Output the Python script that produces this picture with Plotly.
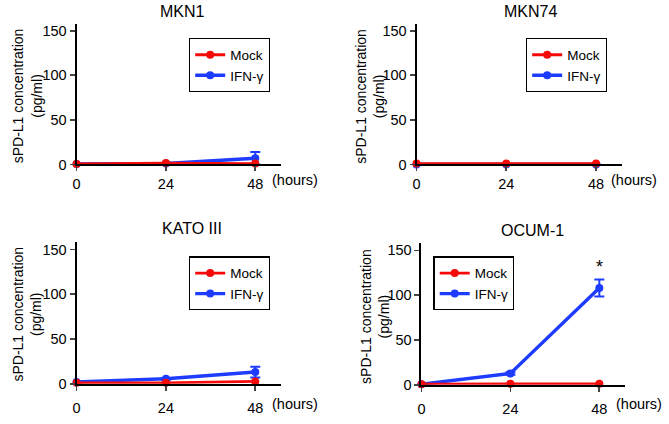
import plotly.graph_objects as go

hours = [0, 24, 48]
x_ticks = [0, 24, 48]
y_ticks = [0, 50, 100, 150]

panels = ["MKN1", "MKN74", "KATO III", "OCUM-1"]

mock_mkn1 = [0.5, 1.5, 1.0]
ifn_mkn1 = [0.5, 1.0, 7.0]
ifn_mkn1_err = [0.3, 0.5, 7.0]

mock_mkn74 = [1.0, 1.0, 1.0]
ifn_mkn74 = [0.0, 0.0, 0.0]
ifn_mkn74_err = [0.0, 0.0, 0.0]

mock_kato = [1.0, 1.0, 2.5]
ifn_kato = [2.0, 5.5, 13.0]
ifn_kato_err = [0.5, 1.0, 6.0]

mock_ocum = [0.5, 1.0, 1.0]
ifn_ocum = [0.5, 12.5, 108.0]
ifn_ocum_err = [0.3, 1.5, 9.5]

mock_series = [mock_mkn1, mock_mkn74, mock_kato, mock_ocum]
ifn_series = [ifn_mkn1, ifn_mkn74, ifn_kato, ifn_ocum]
ifn_errs = [ifn_mkn1_err, ifn_mkn74_err, ifn_kato_err, ifn_ocum_err]

RED = "#f50a0a"
BLUE = "#1e3cff"
FONT = "Arial, Liberation Sans, sans-serif"
W, H = 669, 424

# pixel layout per panel: (x_left, x_right, y_top, y_bottom) in px from top-left
boxes = [
    (73, 279, 23, 167),
    (415, 622, 23, 167),
    (73, 279, 246.5, 391),
    (420, 625, 247.5, 392),
]
legend_pos = [(186, 38), (525, 38), (186, 261), (432, 261)]
title_pos = [(180, 11), (530, 11), (189, 232), (532, 234)]
hours_pos = [(293, 183), (634, 183), (293, 412), (639, 412)]
ytitle_pos = [(23.5, 97), (368, 97), (23.5, 320), (373, 322)]

fig = go.Figure()
layout = dict(
    width=W, height=H, margin=dict(l=0, r=0, t=0, b=0),
    plot_bgcolor="white", paper_bgcolor="white",
    font=dict(family=FONT, size=14, color="black"),
    annotations=[],
)

for i in range(4):
    sfx = "" if i == 0 else str(i + 1)
    xa, ya = "x" + sfx, "y" + sfx
    lg = "legend" + sfx
    x0, x1, yt, yb = boxes[i]
    fig.add_trace(go.Scatter(
        x=hours, y=ifn_series[i], name="IFN-γ", mode="lines+markers",
        line=dict(color=BLUE, width=3.4), marker=dict(color=BLUE, size=8),
        error_y=dict(type="data", array=ifn_errs[i], color=BLUE, thickness=2, width=5),
        xaxis=xa, yaxis=ya, legend=lg, legendrank=2, cliponaxis=False,
    ))
    fig.add_trace(go.Scatter(
        x=hours, y=mock_series[i], name="Mock", mode="lines+markers",
        line=dict(color=RED, width=2.8), marker=dict(color=RED, size=8),
        xaxis=xa, yaxis=ya, legend=lg, legendrank=1, cliponaxis=False,
    ))
    standoff = 0 if i < 2 else 5
    layout["xaxis" + sfx] = dict(
        domain=[x0 / W, x1 / W], range=[0, 55], anchor=ya,
        tickvals=x_ticks, ticks="outside", ticklen=5, tickwidth=1.8,
        showline=True, linecolor="black", linewidth=2, showgrid=False,
        zeroline=False, tickfont=dict(size=14.5), ticklabelstandoff=standoff,
        fixedrange=True,
    )
    layout["yaxis" + sfx] = dict(
        domain=[(H - yb) / H, (H - yt) / H], range=[0, 158], anchor=xa,
        tickvals=y_ticks, ticks="outside", ticklen=5, tickwidth=1.8,
        showline=True, linecolor="black", linewidth=2, showgrid=False,
        zeroline=False, tickfont=dict(size=14.5), fixedrange=True,
    )
    lx, ly = legend_pos[i]
    layout[lg] = dict(
        x=lx / W, y=(H - ly) / H, xanchor="left", yanchor="top",
        xref="paper", yref="paper",
        bordercolor="black", borderwidth=1.3, bgcolor="white",
        font=dict(size=13.5, family=FONT), itemwidth=30,
        tracegroupgap=0,
    )
    tx, ty = title_pos[i]
    layout["annotations"].append(dict(
        text=panels[i], x=tx / W, y=(H - ty) / H, xref="paper", yref="paper",
        showarrow=False, font=dict(size=16), xanchor="center", yanchor="middle",
    ))
    hx, hy = hours_pos[i]
    layout["annotations"].append(dict(
        text="(hours)", x=hx / W, y=(H - hy) / H, xref="paper", yref="paper",
        showarrow=False, font=dict(size=14.5), xanchor="center", yanchor="middle",
    ))
    yx, yy = ytitle_pos[i]
    layout["annotations"].append(dict(
        text="sPD-L1 concentration<br>(pg/ml)", x=yx / W, y=(H - yy) / H,
        xref="paper", yref="paper", textangle=-90, showarrow=False,
        font=dict(size=14), xanchor="center", yanchor="middle",
    ))

layout["annotations"].append(dict(
    text="*", x=48, y=131, xref="x4", yref="y4", showarrow=False,
    font=dict(size=18), xanchor="center", yanchor="middle",
))

fig.update_layout(**layout)
fig.write_html(
    "out.html",
    config={"displayModeBar": False, "staticPlot": True},
    post_script="document.body.style.margin='0px';document.body.style.overflow='hidden';",
)
